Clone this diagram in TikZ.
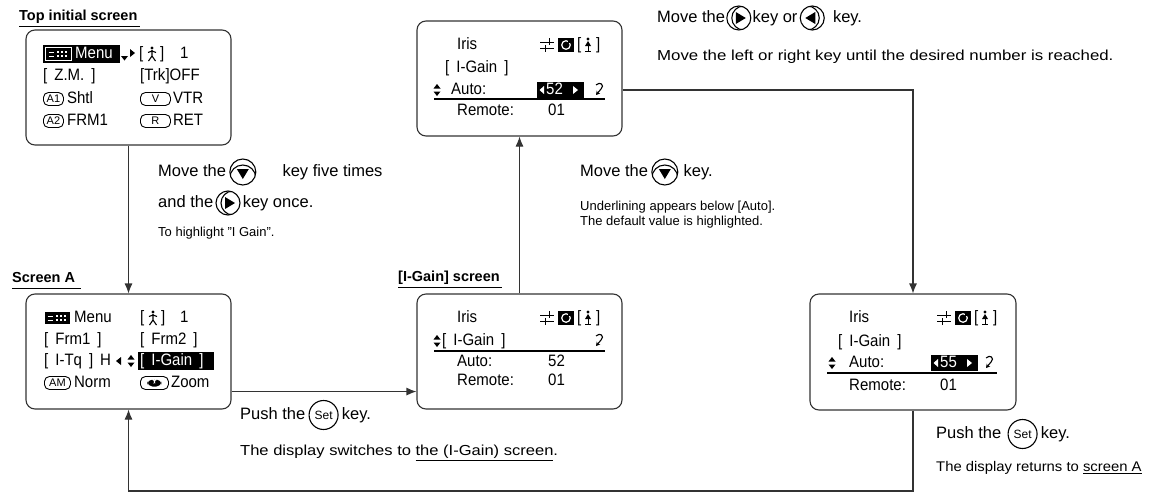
\documentclass[tikz,border=0pt]{standalone}
\usepackage{fontspec}
\setmainfont{Liberation Sans}
\usetikzlibrary{positioning,arrows.meta}

\newcommand{\fsBig}{\fontsize{16.5}{19}\selectfont}
\newcommand{\fsNote}{\fontsize{13}{14.5}\selectfont}
\newcommand{\fsScr}{\fontsize{16.5}{18}\selectfont\addfontfeatures{FakeStretch=0.91}}
\newcommand{\fsLbl}{\fontsize{14.5}{16}\selectfont}
\newcommand{\igtxt}{[\hspace{7pt}I-Gain\hspace{7pt}]}

\tikzset{
  screen/.style={draw=black!80, line width=1.1pt, rounded corners=9pt, minimum width=205pt, minimum height=115pt, inner sep=0pt},
  scrtxt/.style={anchor=west, inner sep=0pt, text height=12pt, text depth=3pt, font={\fsScr\spaceskip=7pt\relax}},
  wtxt/.style={scrtxt, text=white},
  badge/.style={draw, line width=0.9pt, rounded corners=5pt, anchor=west, inner sep=0pt, minimum height=13pt, font=\fontsize{11}{11}\selectfont},
  lbl/.style={anchor=west, inner sep=0pt, text height=10.5pt, text depth=3pt, font=\fsLbl\bfseries},
  txt/.style={anchor=west, inner sep=0pt, text height=11.5pt, text depth=3.5pt, font=\fsBig},
  note/.style={anchor=west, inner sep=0pt, align=left, font=\fsNote},
  uline/.style={line width=1.4pt},
  conn/.style={draw=black!80, line width=1.1pt, -{Latex[length=10pt,width=8pt]}},
  keydn/.style={circle, draw, line width=1.1pt, minimum size=26pt, inner sep=0pt,
    path picture={
      \draw[line width=1.1pt] ([yshift=-6pt]path picture bounding box.center) circle (13pt);
      \fill ([shift={(-6pt,3pt)}]path picture bounding box.center) -- ++(12pt,0pt) -- ++(-6pt,-10pt) -- cycle;}},
  keyrt/.style={circle, draw, line width=1.1pt, minimum size=24pt, inner sep=0pt,
    path picture={
      \draw[line width=1.1pt] ([xshift=5pt]path picture bounding box.center) circle (12pt);
      \fill ([shift={(-3pt,6pt)}]path picture bounding box.center) -- ++(0pt,-12pt) -- ++(10pt,6pt) -- cycle;}},
  keylt/.style={circle, draw, line width=1.1pt, minimum size=24pt, inner sep=0pt,
    path picture={
      \draw[line width=1.1pt] ([xshift=-5pt]path picture bounding box.center) circle (12pt);
      \fill ([shift={(3pt,6pt)}]path picture bounding box.center) -- ++(0pt,-12pt) -- ++(-10pt,6pt) -- cycle;}},
  keyset/.style={circle, draw, line width=1.1pt, minimum size=29pt, inner sep=0pt, font=\fontsize{12}{12}\selectfont},
  zoomicon/.style={path picture={
      \fill ([shift={(-7pt,-3.5pt)}]path picture bounding box.center) rectangle ++(14pt,7pt);
      \fill[white] ([shift={(-1.5pt,3.6pt)}]path picture bounding box.center) -- ++(3pt,0pt) -- ++(-1.5pt,-3pt) -- cycle;}},
  menuicon/.pic={
    \filldraw[fill=black, draw=white, line width=0.7pt] (0,-6.5) rectangle (26,6.5);
    \draw[white, line width=1pt] (3.5,-2) -- (9,-2) (3.5,2) -- (9,2);
    \foreach \dx in {12,16,20}{
      \fill[white] (\dx,-3.2) rectangle ++(2.2,2.2);
      \fill[white] (\dx,1) rectangle ++(2.2,2.2);}
  },
  walker/.pic={
    \fill (0,-6) circle (1.7);
    \draw[line width=1.1pt] (0,-4) -- (0,2) (-4,-1.5) -- (0,-3) -- (4,-1.5) (0,2) -- (-3.5,7) (0,2) -- (3.5,7);
  },
  updown/.pic={
    \fill (-3.5,-1.5) -- (3.5,-1.5) -- (0,-6) -- cycle;
    \fill (-3.5,1.5) -- (3.5,1.5) -- (0,6) -- cycle;
  },
  retsym/.pic={
    \draw[line width=1.1pt, -{Stealth[length=4pt,width=4.5pt]}] (-3,-5) .. controls (1,-9) and (6,-5) .. (2,-1) -- (-3,5);
  },
  iricons/.pic={
    \draw[line width=1pt] (0,-3) -- (14,-3) (0,3) -- (14,3) (9,-7) -- (9,0) (5,0) -- (5,7);
    \fill (18,-7) rectangle (34,7);
    \draw[white, line width=1.2pt] (26,0) circle (4.3);
    \fill (28,-5.5) rectangle (31,-2);
    \node[scrtxt] (-bra) at (37,0) {[};
    \fill (48,-6) circle (1.6);
    \fill (45,1) -- (51,1) -- (48,-4) -- cycle;
    \draw[line width=1pt] (48,1) -- (48,6) (45,6) -- (51,6);
    \node[scrtxt] (-ket) at (56,0) {]};
  },
}

\begin{document}
\begin{tikzpicture}[x=1pt,y=-1pt]
  \useasboundingbox (0,0) rectangle (1157,493);
  % screens
  \node[screen] (scrTop) at (128.5,87.5) {};
  \node[screen] (scrA) at (128.5,351.5) {};
  \node[screen] (scrIG) at (519.5,351.5) {};
  \node[screen] (scrSet) at (519.5,78.5) {};
  \node[screen, minimum width=206pt, minimum height=116pt] (scrNew) at (913,352) {};

  % screen titles
  \node[lbl] (lbTop) at (19,17) {Top initial screen};
  \draw[line width=1pt] ([yshift=-2.5pt]lbTop.south west) -- ([shift={(2pt,-2.5pt)}]lbTop.south east);
  \node[lbl] (lbA) at (12,279) {Screen A};
  \draw[line width=1pt] ([yshift=-2.5pt]lbA.south west) -- ([shift={(6pt,-2.5pt)}]lbA.south east);
  \node[lbl] (lbIG) at (398,278) {[I-Gain] screen};
  \draw[line width=1pt] ([yshift=-2.5pt]lbIG.south west) -- ([shift={(2pt,-2.5pt)}]lbIG.south east);

  % top initial screen
  \fill (43,45) rectangle (120,63);
  \pic (miT) at (45,54) {menuicon};
  \node[wtxt] (tMenu) at (75,54) {Menu};
  \fill (121,56) -- (128,56) -- (124.5,60.5) -- cycle;
  \fill (130,49) -- (130,57) -- (135,53) -- cycle;
  \node[scrtxt] (tBra) at (139,54) {[};
  \pic (wkT) at (152,54) {walker};
  \node[scrtxt] (tKet) at (160,54) {]};
  \node[scrtxt] (tOne) at (180,54) {1};
  \node[scrtxt] (tZM) at (43,76) {[ Z.M. ]};
  \node[scrtxt] (tTrk) at (140,76) {[Trk]OFF};
  \node[badge, minimum width=20pt] (tA1) at (43,99) {A1};
  \node[scrtxt, right=3pt of tA1] (tShtl) {Shtl};
  \node[badge, minimum width=30pt] (tV) at (140,99) {V};
  \node[scrtxt, right=2pt of tV] (tVTR) {VTR};
  \node[badge, minimum width=20pt] (tA2) at (43,121) {A2};
  \node[scrtxt, right=3pt of tA2] (tFRM) {FRM1};
  \node[badge, minimum width=30pt] (tR) at (140,121) {R};
  \node[scrtxt, right=2pt of tR] (tRET) {RET};

  % screen A
  \pic (miA) at (44,318) {menuicon};
  \node[scrtxt] (aMenu) at (74,318) {Menu};
  \node[scrtxt] (aBra) at (140,318) {[};
  \pic (wkA) at (153,318) {walker};
  \node[scrtxt] (aKet) at (161,318) {]};
  \node[scrtxt] (aOne) at (180,318) {1};
  \node[scrtxt] (aF1) at (44,340) {[ Frm1 ]};
  \node[scrtxt] (aF2) at (140,340) {[ Frm2 ]};
  \node[scrtxt] (aTq) at (44,361) {[ I-Tq ] H};
  \fill (121,357) -- (121,365) -- (116,361) -- cycle;
  \pic (udA) at (131,361) {updown};
  \fill (138,352) rectangle (214,370);
  \node[wtxt] (aIG) at (140,361) {\igtxt};
  \node[badge, minimum width=26pt] (aAM) at (44,383) {AM};
  \node[scrtxt, right=3pt of aAM] (aNorm) {Norm};
  \node[badge, zoomicon, minimum width=28pt] (aZm) at (140,383) {};
  \node[scrtxt, right=2pt of aZm] (aZoom) {Zoom};

  % value setting screen
  \node[scrtxt] (sIris) at (457,45) {Iris};
  \pic (icS) at (540,45) {iricons};
  \node[scrtxt] (sIG) at (445,68) {\igtxt};
  \pic (udS) at (437,90) {updown};
  \node[scrtxt] (sAuto) at (451,90) {Auto:};
  \fill (537,82) rectangle (584,98);
  \fill[white] (544,86) -- (544,94) -- (539.5,90) -- cycle;
  \node[wtxt] (sVal) at (546,90) {52};
  \fill[white] (573,86) -- (573,94) -- (578,90) -- cycle;
  \pic (rtS) at (599,90) {retsym};
  \draw[uline] (434,99) -- (605,99);
  \node[scrtxt] (sRem) at (457,111) {Remote:};
  \node[scrtxt] (sRv) at (548,111) {01};

  % [I-Gain] screen
  \node[scrtxt] (gIris) at (457,318) {Iris};
  \pic (icG) at (540,318) {iricons};
  \pic (udG) at (437,341) {updown};
  \node[scrtxt] (gIG) at (442,341) {\igtxt};
  \pic (rtG) at (599,341) {retsym};
  \draw[uline] (434,351) -- (605,351);
  \node[scrtxt] (gAuto) at (457,362) {Auto:};
  \node[scrtxt] (gAv) at (548,362) {52};
  \node[scrtxt] (gRem) at (457,381) {Remote:};
  \node[scrtxt] (gRv) at (548,381) {01};

  % new value screen
  \node[scrtxt] (nIris) at (849,318) {Iris};
  \pic (icN) at (937,318) {iricons};
  \node[scrtxt] (nIG) at (838,342) {\igtxt};
  \pic (udN) at (832,363) {updown};
  \node[scrtxt] (nAuto) at (849,363) {Auto:};
  \fill (931,355) rectangle (978,371);
  \fill[white] (938,359) -- (938,367) -- (933.5,363) -- cycle;
  \node[wtxt] (nVal) at (940,363) {55};
  \fill[white] (967,359) -- (967,367) -- (972,363) -- cycle;
  \pic (rtN) at (989,363) {retsym};
  \draw[uline] (827,373) -- (997,373);
  \node[scrtxt] (nRem) at (849,386) {Remote:};
  \node[scrtxt] (nRv) at (940,386) {01};

  % connectors
  \coordinate (aOut) at ([yshift=18pt]scrA.south east);
  \coordinate (sOut) at ([yshift=-11.5pt]scrSet.east);
  \coordinate (loopY) at (0,491);
  \draw[conn] (scrTop.south) -- (scrA.north);
  \draw[conn] (aOut) -- (aOut -| scrIG.west);
  \draw[conn] (scrIG.north) -- (scrSet.south);
  \draw[conn] (sOut) -| (scrNew.north);
  \draw[conn] (scrNew.south) |- (loopY -| scrA.south) -- (scrA.south);

  % instructions
  \node[txt] (mv1) at (158,172) {Move the};
  \node[keydn, right=3pt of mv1] (kd1) {};
  \node[txt, right=26pt of kd1] (mv1b) {key five times};
  \node[txt] (mv2) at (158,203) {and the};
  \node[keyrt, right=2pt of mv2] (kr2) {};
  \node[txt, right=2pt of kr2] (mv2b) {key once.};
  \node[note] (nt1) at (158,233) {To highlight "I Gain".};

  \node[txt] (mv3) at (580,172) {Move the};
  \node[keydn, right=3pt of mv3] (kd3) {};
  \node[txt, right=5pt of kd3] (mv3b) {key.};
  \node[note, anchor=north west] (nt3) at (580,201) {Underlining appears below [Auto].\\The default value is highlighted.};

  \node[txt] (mv4) at (657,18) {Move the};
  \node[keyrt, right=1pt of mv4] (kr4) {};
  \node[txt, right=1pt of kr4] (mv4b) {key or};
  \node[keylt, right=2pt of mv4b] (kl4) {};
  \node[txt, right=8pt of kl4] (mv4c) {key.};
  \node[note, font={\fontsize{14.5}{16}\selectfont\addfontfeatures{FakeStretch=1.16}}] (nt4) at (657,57) {Move the left or right key until the desired number is reached.};

  \node[txt] (ps1) at (240,415) {Push the};
  \node[keyset, right=3pt of ps1] (st1) {Set};
  \node[txt, right=3pt of st1] (ps1b) {key.};
  \node[note, font={\fontsize{14.5}{16}\selectfont\addfontfeatures{FakeStretch=1.14}}] (nt5) at (240,453) {The display switches to \underline{the (I-Gain) screen}.};

  \node[txt] (ps2) at (936,434) {Push the};
  \node[keyset, right=6pt of ps2] (st2) {Set};
  \node[txt, right=3pt of st2] (ps2b) {key.};
  \node[note, font={\fontsize{14}{16}\selectfont\addfontfeatures{FakeStretch=1.06}}] (nt6) at (936,468) {The display returns to \underline{screen A}};
\end{tikzpicture}
\end{document}
